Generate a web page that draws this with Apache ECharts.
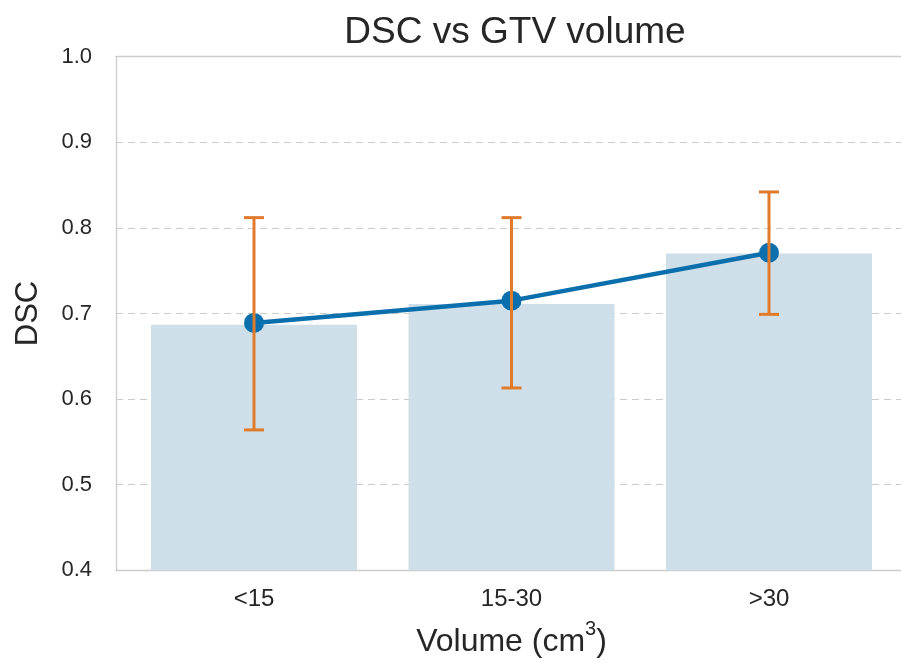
<!DOCTYPE html>
<html>
<head>
<meta charset="utf-8">
<style>
  html, body { margin: 0; padding: 0; background: #ffffff; }
  #chart { width: 901px; height: 665px; }
</style>
<script src="https://cdn.jsdelivr.net/npm/echarts@6/dist/echarts.min.js"></script>
</head>
<body>
<div id="chart"></div>
<script>
// GTV volume groups
const categories = ['<15', '15-30', '>30'];
// Bar heights per group
const barValues = [0.687, 0.711, 0.770];
// Mean DSC per group (line with markers)
const meanValues = [0.689, 0.715, 0.771];
// Error bar extents per group
const errLow = [0.564, 0.613, 0.699];
const errHigh = [0.812, 0.812, 0.842];
// Y axis ticks
const yTicks = [0.4, 0.5, 0.6, 0.7, 0.8, 0.9, 1.0];

const FONT = 'Liberation Sans, Arial, sans-serif';
const TEXT = '#262626';
const SPINE = { show: true, lineStyle: { color: '#cccccc', width: 1.3 } };

const errorData = categories.map((c, i) => [i, errLow[i], errHigh[i]]);

const chart = echarts.init(document.getElementById('chart'), null, { renderer: 'canvas' });

const plotTop = 56.7;
const plotHeight = 513.6;

chart.setOption({
  backgroundColor: '#ffffff',
  animation: false,
  title: {
    text: 'DSC vs GTV volume',
    left: 510,
    textAlign: 'center',
    top: 9,
    textStyle: { fontFamily: FONT, fontSize: 37, fontWeight: 'normal', color: TEXT }
  },
  grid: [
    {
      // frame and gridlines
      left: 116, top: plotTop, right: 0, height: plotHeight
    },
    {
      // data area
      left: 125.25, top: plotTop, width: 772.5, height: plotHeight
    }
  ],
  xAxis: [
    {
      gridIndex: 0, type: 'category', data: categories, position: 'bottom',
      axisLine: SPINE, axisTick: { show: false }, axisLabel: { show: false }, splitLine: { show: false }
    },
    {
      gridIndex: 1,
      type: 'category',
      data: categories,
      axisLine: { show: false },
      axisTick: { show: false },
      axisLabel: { fontFamily: FONT, fontSize: 24, color: TEXT, margin: 17 },
      name: 'Volume (cm{sup|3})',
      nameLocation: 'middle',
      nameGap: 49,
      nameTextStyle: {
        fontFamily: FONT, fontSize: 32, color: TEXT,
        rich: {
          sup: { fontFamily: FONT, fontSize: 20, color: TEXT, verticalAlign: 'top', padding: [0, 0, 26, 0] }
        }
      }
    },
    {
      gridIndex: 0, type: 'category', data: categories, position: 'top',
      axisLine: SPINE, axisTick: { show: false }, axisLabel: { show: false }, splitLine: { show: false }
    }
  ],
  yAxis: [
    {
      gridIndex: 0,
      type: 'value',
      min: yTicks[0],
      max: yTicks[yTicks.length - 1],
      interval: 0.1,
      axisLine: SPINE,
      axisTick: { show: false },
      axisLabel: {
        fontFamily: FONT, fontSize: 22, color: TEXT, margin: 24,
        formatter: v => v.toFixed(1)
      },
      splitLine: { show: true, lineStyle: { color: '#cccccc', type: [7, 5], width: 1.2 } },
      name: 'DSC',
      nameLocation: 'middle',
      nameGap: 72,
      nameTextStyle: { fontFamily: FONT, fontSize: 31, color: TEXT }
    },
    {
      gridIndex: 1,
      type: 'value',
      min: yTicks[0],
      max: yTicks[yTicks.length - 1],
      show: false,
      splitLine: { show: false }
    }
  ],
  series: [
    {
      type: 'bar',
      xAxisIndex: 1,
      yAxisIndex: 1,
      data: barValues,
      barWidth: '80%',
      itemStyle: { color: '#cfdfe9' },
      z: 1
    },
    {
      type: 'line',
      xAxisIndex: 1,
      yAxisIndex: 1,
      data: meanValues,
      symbol: 'circle',
      symbolSize: 20,
      lineStyle: { color: '#0b6fad', width: 4.5 },
      itemStyle: { color: '#0b6fad' },
      z: 3
    },
    {
      type: 'custom',
      xAxisIndex: 1,
      yAxisIndex: 1,
      data: errorData,
      z: 5,
      renderItem: function (params, api) {
        const i = api.value(0);
        const lo = api.coord([i, api.value(1)]);
        const hi = api.coord([i, api.value(2)]);
        const cap = 10;
        const style = { stroke: '#e07b2c', lineWidth: 3, fill: null };
        return {
          type: 'group',
          children: [
            { type: 'line', shape: { x1: lo[0], y1: lo[1], x2: hi[0], y2: hi[1] }, style: style },
            { type: 'line', shape: { x1: lo[0] - cap, y1: lo[1], x2: lo[0] + cap, y2: lo[1] }, style: style },
            { type: 'line', shape: { x1: hi[0] - cap, y1: hi[1], x2: hi[0] + cap, y2: hi[1] }, style: style }
          ]
        };
      }
    }
  ]
});
</script>
</body>
</html>
